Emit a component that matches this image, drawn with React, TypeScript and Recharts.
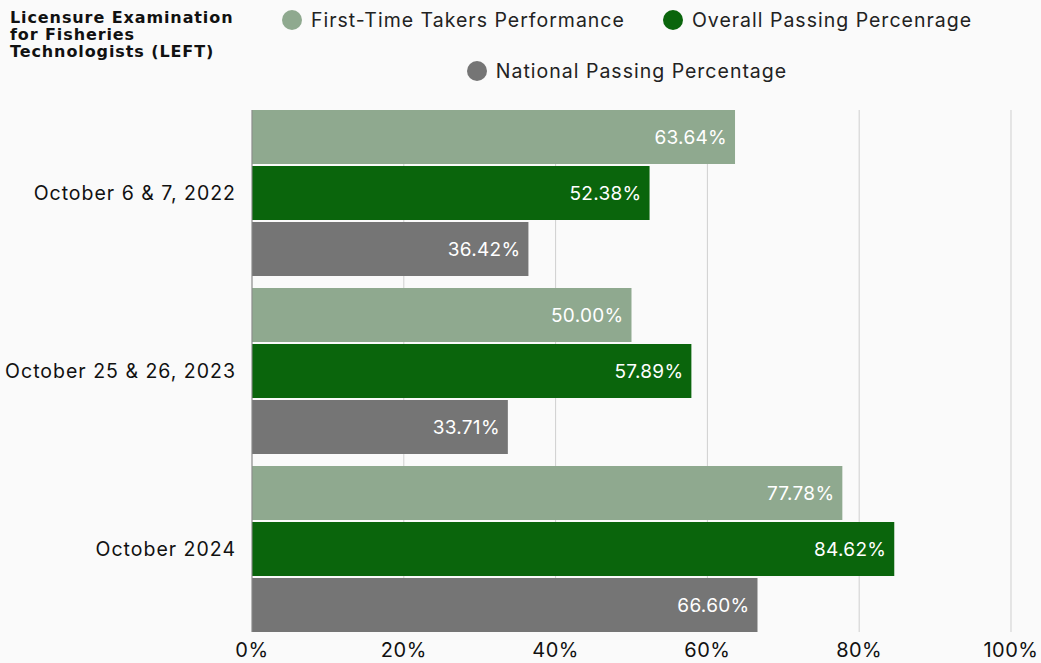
import { BarChart, Bar, XAxis, YAxis, CartesianGrid, LabelList } from "recharts";

const categories = ["October 6 & 7, 2022", "October 25 & 26, 2023", "October 2024"];
const firstTimeTakers = [63.64, 50.0, 77.78];
const overallPassing = [52.38, 57.89, 84.62];
const nationalPassing = [36.42, 33.71, 66.6];
const xTicks = [0, 20, 40, 60, 80, 100];

const series = [
  { key: "firstTime", name: "First-Time Takers Performance", color: "#8fa98f" },
  { key: "overall", name: "Overall Passing Percenrage", color: "#0a650c" },
  { key: "national", name: "National Passing Percentage", color: "#757575" },
];

const data = categories.map((name, i) => ({
  name,
  firstTime: firstTimeTakers[i],
  overall: overallPassing[i],
  national: nationalPassing[i],
}));

const font = "Inter, 'Noto Sans', sans-serif";
const fmt = (v: number) => `${v.toFixed(2)}%`;

export default function App() {
  return (
    <div style={{ position: "absolute", left: 0, top: 0, width: 1041, height: 663, background: "#fafafa", fontFamily: font }}>
      <div style={{ position: "absolute", left: 10, top: 9, fontFamily: "'DejaVu Sans', sans-serif", fontWeight: 700, fontSize: 16, letterSpacing: 0.9, lineHeight: "17px", color: "#111" }}>
        Licensure Examination<br />for Fisheries<br />Technologists (LEFT)
      </div>
      <div style={{ position: "absolute", left: 244, top: 8, width: 766, display: "flex", flexWrap: "wrap", justifyContent: "center", columnGap: 38, rowGap: 27, fontSize: 19.5, letterSpacing: 1, color: "#222" }}>
        {series.map((s) => (
          <div key={s.key} style={{ display: "flex", alignItems: "center", gap: 9 }}>
            <span style={{ width: 20, height: 20, borderRadius: 10, background: s.color, display: "inline-block" }} />
            <span>{s.name}</span>
          </div>
        ))}
      </div>
      <BarChart
        width={1041}
        height={663}
        data={data}
        layout="vertical"
        margin={{ top: 110, right: 30, bottom: 6, left: 0 }}
        barGap={2}
        barSize={54}
        style={{ position: "absolute", left: 0, top: 0 }}
      >
        <CartesianGrid horizontal={false} stroke="#cfcfcf" />
        <XAxis
          type="number"
          domain={[0, 100]}
          ticks={xTicks}
          tickFormatter={(v) => `${v}%`}
          axisLine={false}
          tickLine={false}
          tickSize={5}
          tickMargin={6}
          height={25}
          tick={{ fill: "#111", fontSize: 20, letterSpacing: 0.5, fontFamily: font }}
        />
        <YAxis
          type="category"
          dataKey="name"
          width={252}
          padding={{ top: -6, bottom: -6 }}
          axisLine={{ stroke: "#8a8a8a" }}
          tickLine={false}
          tickMargin={10}
          tick={{ fill: "#111", fontSize: 19.5, letterSpacing: 1, fontFamily: font }}
        />
        {series.map((s) => (
          <Bar key={s.key} dataKey={s.key} name={s.name} fill={s.color} isAnimationActive={false}>
            <LabelList dataKey={s.key} position="insideRight" offset={8} formatter={(v: any) => fmt(Number(v))} fill="#fff" fontSize={19} letterSpacing={0.3} fontFamily={font} />
          </Bar>
        ))}
      </BarChart>
    </div>
  );
}
